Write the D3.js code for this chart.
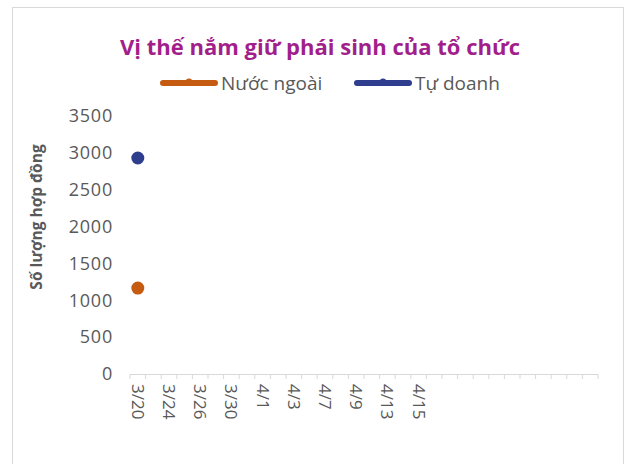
<!DOCTYPE html>
<html>
<head>
<meta charset="utf-8">
<script src="https://cdn.jsdelivr.net/npm/d3@7"></script>
<style>
  body { margin: 0; background: #fff; }
  text { font-family: "Open Sans", "Noto Sans", sans-serif; }
</style>
</head>
<body>
<svg id="chart" width="629" height="464"></svg>
<script>
// categories (trading days), last slots are blank in the source sheet
const dates = [
  "3/20", "3/23", "3/24", "3/25", "3/26", "3/27", "3/30", "3/31", "4/1", "4/2",
  "4/3", "4/6", "4/7", "4/8", "4/9", "4/10", "4/13", "4/14", "4/15", "4/16",
  "", "", "", "", "", "", "", "", "", "",
];
// series values, only the first day is filled
const nuocNgoai = [1165];
const tuDoanh = [2930];
const yTicks = [0, 500, 1000, 1500, 2000, 2500, 3000, 3500];

const svg = d3.select("#chart");
const margin = { left: 130, right: 31, top: 116, bottom: 90 };
const width = 629, height = 464;

// chart border
svg.append("rect")
  .attr("x", 12.5).attr("y", 7.5)
  .attr("width", 611).attr("height", 470)
  .attr("fill", "none").attr("stroke", "#d9d9d9");

const x = d3.scaleBand()
  .domain(d3.range(dates.length))
  .range([margin.left, width - margin.right]);
const y = d3.scaleLinear()
  .domain([0, 3500])
  .range([height - margin.bottom, margin.top]);

// x axis: baseline, tick marks between categories
const xg = svg.append("g");
xg.append("line")
  .attr("x1", x.range()[0]).attr("x2", x.range()[1])
  .attr("y1", y(0) + 0.5).attr("y2", y(0) + 0.5)
  .attr("stroke", "#d9d9d9").attr("stroke-width", 1);
xg.selectAll("line.tick")
  .data(d3.range(dates.length + 1))
  .join("line")
  .attr("class", "tick")
  .attr("x1", (i) => x.range()[0] + i * x.step())
  .attr("x2", (i) => x.range()[0] + i * x.step())
  .attr("y1", y(0)).attr("y2", y(0) + 5)
  .attr("stroke", "#d9d9d9");
xg.selectAll("text")
  .data(dates.map((d, i) => ({ d, i })).filter((o) => o.i % 2 === 0 && o.d))
  .join("text")
  .attr("transform", (o) => `translate(${x(o.i) + x.bandwidth() / 2 - 6},${y(0) + 10}) rotate(90)`)
  .attr("fill", "#595959")
  .attr("font-size", 17)
  .text((o) => o.d);

// y axis labels, no gridlines
svg.append("g").selectAll("text")
  .data(yTicks)
  .join("text")
  .attr("x", 113)
  .attr("y", (d) => y(d))
  .attr("dy", "0.35em")
  .attr("text-anchor", "end")
  .attr("fill", "#595959")
  .attr("font-size", 18)
  .attr("letter-spacing", 0.8)
  .text((d) => d);

svg.append("text")
  .attr("transform", "translate(42,217) rotate(-90)")
  .attr("text-anchor", "middle")
  .attr("fill", "#595959")
  .attr("font-size", 15.5)
  .attr("font-weight", "bold")
  .text("Số lượng hợp đồng");

// title
svg.append("text")
  .attr("x", 320).attr("y", 55)
  .attr("text-anchor", "middle")
  .attr("fill", "#a21f8b")
  .attr("font-size", 22)
  .attr("font-weight", "bold")
  .text("Vị thế nắm giữ phái sinh của tổ chức");

// series
const series = [
  { name: "Nước ngoài", values: nuocNgoai, color: "#c55a11", lx: 160 },
  { name: "Tự doanh", values: tuDoanh, color: "#2f3d8f", lx: 354 },
];

series.forEach((s) => {
  svg.append("g").selectAll("circle")
    .data(s.values)
    .join("circle")
    .attr("cx", (d, i) => x(i) + x.bandwidth() / 2)
    .attr("cy", (d) => y(d))
    .attr("r", 6.5)
    .attr("fill", s.color);

  // legend
  const lg = svg.append("g");
  lg.append("line")
    .attr("x1", s.lx + 3).attr("x2", s.lx + 55)
    .attr("y1", 83).attr("y2", 83)
    .attr("stroke", s.color).attr("stroke-width", 6)
    .attr("stroke-linecap", "round");
  lg.append("circle")
    .attr("cx", s.lx + 29).attr("cy", 82).attr("r", 3.5)
    .attr("fill", s.color);
  lg.append("text")
    .attr("x", s.lx + 61).attr("y", 83)
    .attr("dy", "0.35em")
    .attr("fill", "#595959")
    .attr("font-size", 19)
    .text(s.name);
});
</script>
</body>
</html>
